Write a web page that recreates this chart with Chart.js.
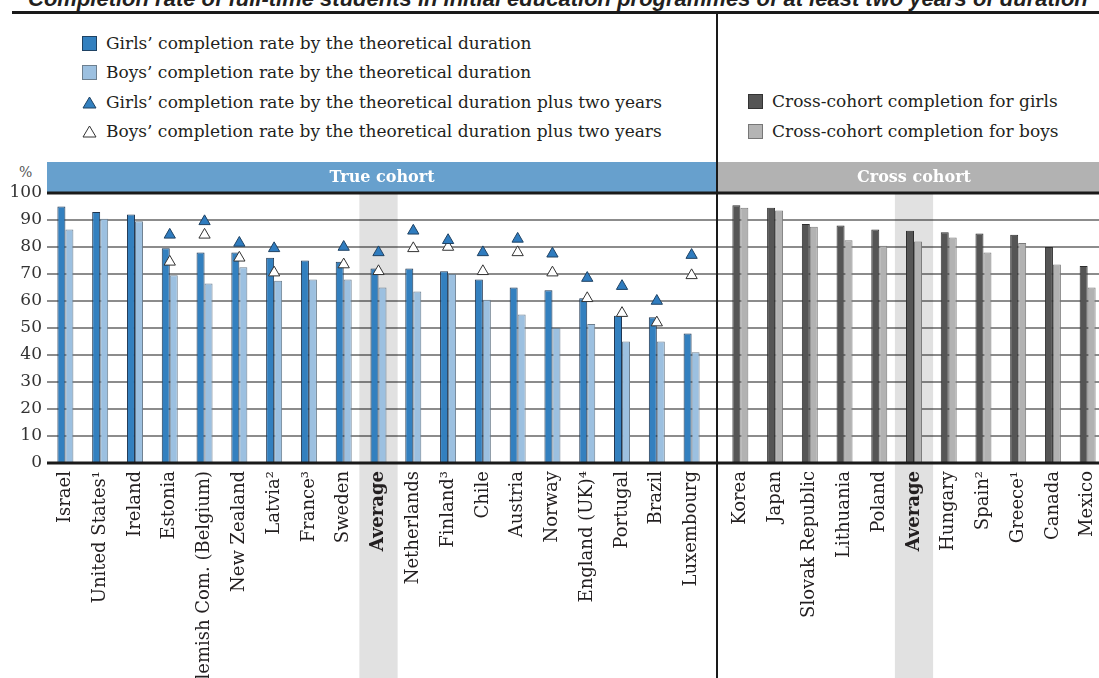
<!DOCTYPE html>
<html>
<head>
<meta charset="utf-8">
<script src="https://cdn.jsdelivr.net/npm/chart.js@4.4.1/dist/chart.umd.min.js"></script>
<style>
  html, body { margin: 0; padding: 0; background: #fff; }
  #page { position: relative; width: 1099px; height: 678px; overflow: hidden; font-family: 'DejaVu Serif', serif; color: #231f20; }
  #title { position: absolute; left: 28px; top: -14px; line-height: 24px; white-space: nowrap; font: italic bold 22px 'Liberation Sans', sans-serif; }
  #rule { position: absolute; left: 12px; right: 0; top: 11px; height: 3px; background: #1a1a1a; }
  #divider { position: absolute; left: 716px; top: 12px; width: 2px; height: 666px; background: #1a1a1a; z-index: 2; }
  #pct { position: absolute; left: 19px; top: 164px; font-size: 14px; color: #555; }
  .leg { position: absolute; display: flex; align-items: center; height: 22px; font-size: 17px; white-space: nowrap; }
  .sw { display: inline-block; width: 13px; height: 13px; border: 1px solid; margin-right: 9px; }
  .leg svg { margin-right: 9px; }
  #chartL { position: absolute; left: 0; top: 150px; }
  #chartR { position: absolute; left: 677px; top: 150px; }
</style>
</head>
<body>
<div id="page">
  <div id="title">Completion rate of full-time students in initial education programmes of at least two years of duration</div>
  <div id="rule"></div>

  <div class="leg" style="left:82px;top:32px"><span class="sw" style="background:#3380bf;border-color:#1f4263"></span>Girls’ completion rate by the theoretical duration</div>
  <div class="leg" style="left:82px;top:61px"><span class="sw" style="background:#9cc0e0;border-color:#6d7f8f"></span>Boys’ completion rate by the theoretical duration</div>
  <div class="leg" style="left:82px;top:91px"><svg width="15" height="13"><polygon points="7.5,1 14,12 1,12" fill="#3380bf" stroke="#1f4263"/></svg>Girls’ completion rate by the theoretical duration plus two years</div>
  <div class="leg" style="left:82px;top:120px"><svg width="15" height="13"><polygon points="7.5,1 14,12 1,12" fill="#fff" stroke="#333"/></svg>Boys’ completion rate by the theoretical duration plus two years</div>
  <div class="leg" style="left:748px;top:90px"><span class="sw" style="background:#555;border-color:#333"></span>Cross-cohort completion for girls</div>
  <div class="leg" style="left:748px;top:120px"><span class="sw" style="background:#b4b4b4;border-color:#777"></span>Cross-cohort completion for boys</div>

  <div id="pct">%</div>
  <canvas id="chartL" width="760" height="528"></canvas>
  <canvas id="chartR" width="458" height="528"></canvas>
  <div id="divider"></div>
</div>

<script>
// True cohort
const trueLabels = ['Israel', 'United States¹', 'Ireland', 'Estonia', 'Flemish Com. (Belgium)', 'New Zealand',
  'Latvia²', 'France³', 'Sweden', 'Average', 'Netherlands', 'Finland³', 'Chile', 'Austria', 'Norway',
  'England (UK)⁴', 'Portugal', 'Brazil', 'Luxembourg'];
const girlsTrue = [95, 93, 92, 79.5, 78, 78, 76, 75, 74.5, 72, 72, 71, 68, 65, 64, 61, 54.5, 54, 48];
const boysTrue  = [86.5, 90.5, 89.5, 69.5, 66.5, 72.5, 67.5, 68, 68, 65, 63.5, 70, 60.5, 55, 50, 51.5, 45, 45, 41];
const girlsPlus2 = [null, null, null, 84.5, 89.5, 81.5, 79.5, null, 80, 78, 86, 82.5, 78, 83, 77.5, 68.5, 65.5, 60, 77];
const boysPlus2  = [null, null, null, 74.5, 84.5, 76, 70.5, null, 73.5, 71, 79.5, 80, 71, 78, 70.5, 61, 55.5, 52, 69.5];

// Cross cohort
const crossLabels = ['Korea', 'Japan', 'Slovak Republic', 'Lithuania', 'Poland', 'Average', 'Hungary',
  'Spain²', 'Greece¹', 'Canada', 'Mexico'];
const girlsCross = [95.5, 94.5, 88.5, 88, 86.5, 86, 85.5, 85, 84.5, 80, 73];
const boysCross  = [94.5, 93.5, 87.5, 82.5, 80.5, 82, 83.5, 78, 81.5, 73.5, 65];

const yTicks = [0, 10, 20, 30, 40, 50, 60, 70, 80, 90, 100];

const FONT = 'DejaVu Serif';
const INK = '#1a1a1a';

// shaded "Average" column + coloured header strip, under the grid
const bandsPlugin = {
  id: 'cohortBands',
  beforeDraw(chart, args, opts) {
    const { ctx, chartArea, scales: { x } } = chart;
    const labels = chart.data.labels;
    const step = x.width / labels.length;
    ctx.save();
    const i = labels.indexOf('Average');
    if (i >= 0) {
      const cx = x.getPixelForValue(i);
      ctx.fillStyle = '#e1e1e1';
      ctx.fillRect(cx - step * 0.55, chartArea.top, step * 1.1, chart.height - chartArea.top);
    }
    const x1 = opts.x1 ?? chart.width;
    ctx.fillStyle = opts.color;
    ctx.fillRect(opts.x0, chartArea.top - 31, x1 - opts.x0, 31);
    const tx = opts.centerOnArea ? (chartArea.left + chartArea.right) / 2 : (opts.x0 + x1) / 2;
    ctx.fillStyle = '#fff';
    ctx.font = 'bold 16px ' + FONT;
    ctx.textAlign = 'center';
    ctx.textBaseline = 'middle';
    ctx.fillText(opts.title, tx, chartArea.top - 15);
    ctx.restore();
  }
};

// horizontal rules through the whole panel, thin behind bars, thick at 0 and 100
function drawRules(chart, opts, thick) {
  const { ctx, scales: { y } } = chart;
  const x1 = opts.x1 ?? chart.width;
  ctx.save();
  ctx.fillStyle = INK;
  yTicks.forEach(v => {
    const edge = v === 0 || v === 100;
    if (edge !== thick) return;
    const py = Math.round(y.getPixelForValue(v));
    if (edge) ctx.fillRect(opts.x0, py - 1.5, x1 - opts.x0, 3);
    else ctx.fillRect(opts.x0, py - 0.5, x1 - opts.x0, 1);
  });
  ctx.restore();
}
const gridPlugin = {
  id: 'cohortGrid',
  beforeDatasetsDraw(chart, args, opts) { drawRules(chart, opts, false); },
  afterDatasetsDraw(chart, args, opts) { drawRules(chart, opts, true); }
};

function triangleSet(data, fill, stroke) {
  return {
    type: 'line', data, showLine: false, order: 0,
    pointStyle: 'triangle', pointRadius: 6.5, pointHoverRadius: 6.5,
    pointBackgroundColor: fill, pointBorderColor: stroke, pointBorderWidth: 1
  };
}
function barSet(data, fill, stroke) {
  return { type: 'bar', data, order: 1, backgroundColor: fill, borderColor: stroke, borderWidth: 1 };
}

function buildChart(id, labels, datasets, side) {
  return new Chart(document.getElementById(id), {
    type: 'bar',
    data: { labels, datasets },
    options: {
      responsive: false,
      animation: false,
      events: [],
      layout: { padding: side.padding },
      datasets: { bar: { categoryPercentage: 0.46, barPercentage: 1 } },
      plugins: {
        legend: { display: false },
        tooltip: { enabled: false },
        cohortBands: side.band,
        cohortGrid: side.band
      },
      scales: {
        x: {
          offset: true,
          grid: { display: false, drawTicks: false },
          border: { display: false },
          ticks: {
            autoSkip: false, minRotation: 90, maxRotation: 90, padding: 8, color: '#231f20',
            font: c => ({ family: FONT, size: 18, weight: labels[c.index] === 'Average' ? 'bold' : 'normal' })
          },
          afterFit: s => { s.height = 215; }
        },
        y: {
          min: 0, max: 100,
          grid: { display: false, drawTicks: false },
          border: { display: false },
          afterBuildTicks: s => { s.ticks = yTicks.map(v => ({ value: v })); },
          ticks: { display: side.showY, padding: 6, color: '#333', font: { family: FONT, size: 17 } },
          afterFit: s => { s.width = side.yWidth; }
        }
      }
    },
    plugins: [bandsPlugin, gridPlugin]
  });
}

buildChart('chartL', trueLabels, [
  triangleSet(girlsPlus2, '#2f7cbf', '#1f4263'),
  triangleSet(boysPlus2, '#ffffff', '#333333'),
  barSet(girlsTrue, '#3380bf', '#1f3550'),
  barSet(boysTrue, '#9cc0e0', '#6d7f8f')
], {
  showY: true,
  yWidth: 48,
  padding: { top: 43, right: 51, left: 0, bottom: 0 },
  band: { x0: 47, x1: 717, color: '#67a0cd', title: 'True cohort' }
});

buildChart('chartR', crossLabels, [
  barSet(girlsCross, '#555555', '#2e2e2e'),
  barSet(boysCross, '#b2b2b2', '#7a7a7a')
], {
  showY: false,
  yWidth: 46,
  padding: { top: 43, right: 30, left: 0, bottom: 0 },
  band: { x0: 40, color: '#b2b2b2', title: 'Cross cohort', centerOnArea: true }
});
</script>
</body>
</html>
